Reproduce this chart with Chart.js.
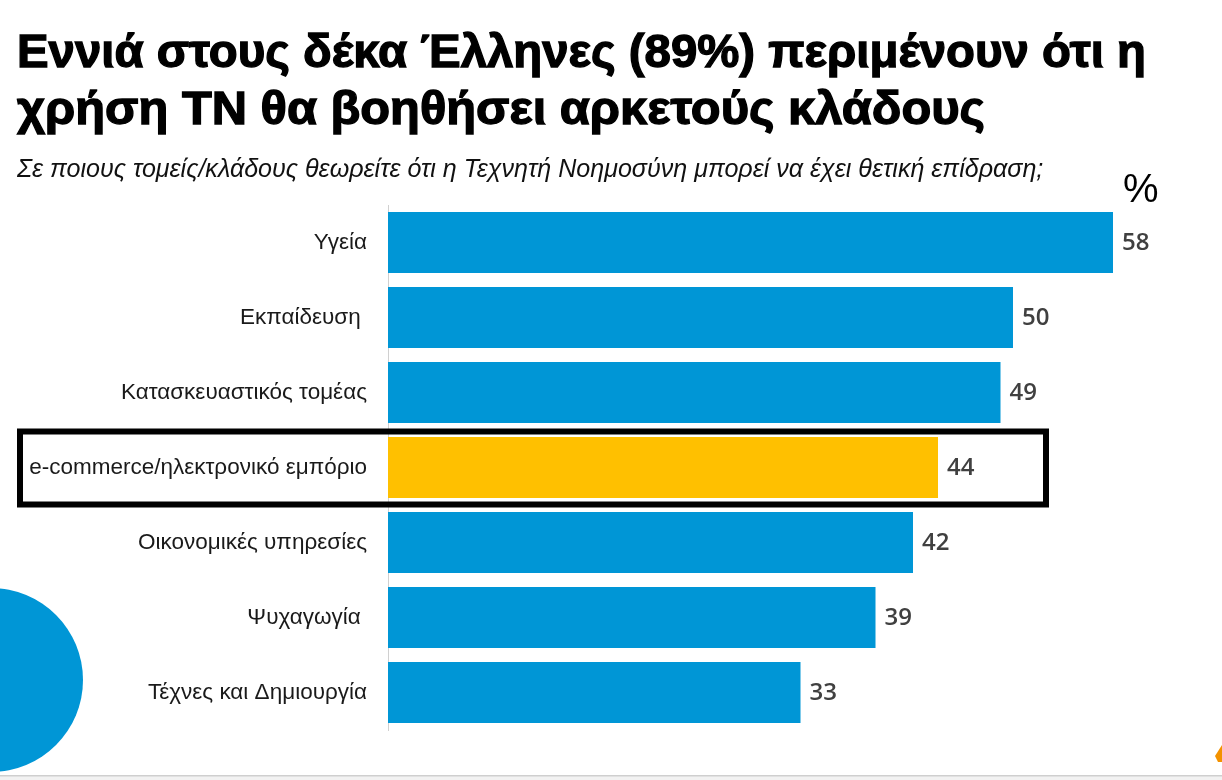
<!DOCTYPE html>
<html>
<head>
<meta charset="utf-8">
<script src="https://cdn.jsdelivr.net/npm/chart.js@4.4.1/dist/chart.umd.min.js"></script>
<style>
  html, body { margin:0; padding:0; background:#ffffff; }
  body { width:1222px; height:780px; position:relative; overflow:hidden; }
  #c { position:absolute; left:0; top:0; }
  .t { position:absolute; white-space:pre; transform-origin:0 0; color:#000; }
  #title1, #title2 { font-family:"Liberation Sans",Arial,sans-serif; font-weight:bold; font-size:46px; line-height:46px; left:17px; -webkit-text-stroke:1.3px #000; }
  #title1 { top:28px; }
  #title2 { top:85px; }
  #sub { font-family:"Liberation Sans",Arial,sans-serif; font-style:italic; font-size:20px; line-height:20px; left:17px; color:#111; }
  #pct { font-family:"Liberation Sans",Arial,sans-serif; font-size:40px; line-height:40px; left:1123px; top:168px; }
</style>
</head>
<body>
<canvas id="c" width="1222" height="780"></canvas>
<div class="t" id="title1">Εννιά στους δέκα Έλληνες (89%) περιμένουν ότι η</div>
<div class="t" id="title2">χρήση ΤΝ θα βοηθήσει αρκετούς κλάδους</div>
<div class="t" id="sub">Σε ποιους τομείς/κλάδους θεωρείτε ότι η Τεχνητή Νοημοσύνη μπορεί να έχει θετική επίδραση;</div>
<div class="t" id="pct">%</div>
<script>
const categories = [
  'Υγεία',
  'Εκπαίδευση ',
  'Κατασκευαστικός τομέας',
  'e-commerce/ηλεκτρονικό εμπόριο',
  'Οικονομικές υπηρεσίες',
  'Ψυχαγωγία ',
  'Τέχνες και Δημιουργία'
];
const values = [58, 50, 49, 44, 42, 39, 33];
const highlightIndex = 3;

const BLUE = '#0096D6';
const YELLOW = '#FFC000';

function fitWidth(id, target) {
  const el = document.getElementById(id);
  const w = el.getBoundingClientRect().width;
  el.style.transform = 'scaleX(' + (target / w) + ')';
}
function fitFont(id, target, baseline) {
  const el = document.getElementById(id);
  const fs = parseFloat(getComputedStyle(el).fontSize);
  const w = el.getBoundingClientRect().width;
  const nfs = fs * target / w;
  el.style.fontSize = nfs + 'px';
  el.style.lineHeight = nfs + 'px';
  // Liberation Sans: baseline ≈ top + 0.8465*fs for line-height = fs
  el.style.top = (baseline - 0.8465 * nfs) + 'px';
}
fitWidth('title1', 1129);
fitWidth('title2', 968);
fitFont('sub', 1027, 177);

const decorPlugin = {
  id: 'decor',
  beforeDraw(chart) {
    const ctx = chart.ctx;
    ctx.save();
    ctx.fillStyle = '#ffffff';
    ctx.fillRect(0, 0, chart.width, chart.height);
    ctx.fillStyle = BLUE;
    ctx.beginPath();
    ctx.arc(-9, 680, 92, 0, Math.PI * 2);
    ctx.fill();
    ctx.fillStyle = '#f2f2f2';
    ctx.fillRect(0, 776, chart.width, 4);
    ctx.fillStyle = '#cfcfcf';
    ctx.fillRect(0, 775, chart.width, 1.5);
    ctx.fillStyle = '#F39200';
    ctx.beginPath();
    ctx.moveTo(1222, 745);
    ctx.lineTo(1215, 756);
    ctx.lineTo(1218, 762);
    ctx.lineTo(1222, 762);
    ctx.closePath();
    ctx.fill();
    ctx.restore();
  },
  afterDatasetsDraw(chart) {
    const ctx = chart.ctx;
    const meta = chart.getDatasetMeta(0);
    ctx.save();
    ctx.fillStyle = '#404040';
    ctx.font = '600 24px "Open Sans", "Liberation Sans", sans-serif';
    ctx.textAlign = 'left';
    ctx.textBaseline = 'middle';
    meta.data.forEach((bar, i) => {
      ctx.fillText(String(values[i]), bar.x + 9, bar.y + 1);
    });
    const yScale = chart.scales.y;
    const cy = yScale.getPixelForValue(highlightIndex);
    ctx.strokeStyle = '#000000';
    ctx.lineWidth = 6;
    ctx.strokeRect(20, cy - 36, 1026, 73);
    ctx.restore();
  }
};

new Chart(document.getElementById('c'), {
  type: 'bar',
  data: {
    labels: categories,
    datasets: [{
      data: values,
      backgroundColor: values.map((v, i) => i === highlightIndex ? YELLOW : BLUE),
      borderWidth: 0,
      barPercentage: 0.816,
      categoryPercentage: 1
    }]
  },
  options: {
    indexAxis: 'y',
    responsive: false,
    devicePixelRatio: 1,
    animation: false,
    layout: { padding: { top: 205, bottom: 50, left: 0, right: 9 } },
    plugins: { legend: { display: false }, tooltip: { enabled: false }, title: { display: false } },
    scales: {
      x: { display: false, min: 0, max: 66 },
      y: {
        grid: { display: false, drawTicks: false },
        border: { display: true, color: '#d0d0d0', width: 1 },
        ticks: {
          color: '#1a1a1a',
          padding: 21,
          font: { family: '"Liberation Sans", Arial, sans-serif', size: 22.5 }
        },
        afterFit(scale) { scale.width = 388; }
      }
    }
  },
  plugins: [decorPlugin]
});
</script>
</body>
</html>
